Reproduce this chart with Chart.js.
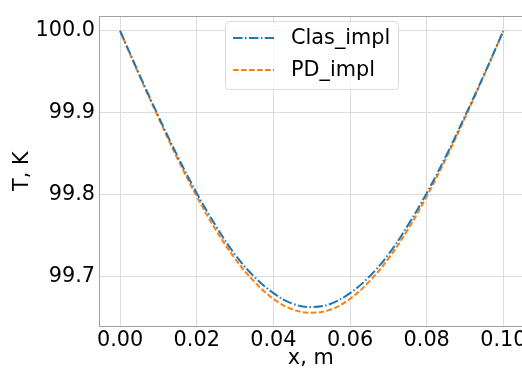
<!DOCTYPE html>
<html>
<head>
<meta charset="utf-8">
<script src="https://cdn.jsdelivr.net/npm/chart.js@4.4.0/dist/chart.umd.min.js"></script>
<style>
  html, body { margin: 0; padding: 0; overflow: hidden; background: #fff; }
  canvas { display: block; }
</style>
</head>
<body>
<canvas id="chartCanvas" width="530" height="371"></canvas>
<script>
"use strict";

// x positions, m
const xs = [0.000, 0.005, 0.010, 0.015, 0.020, 0.025, 0.030, 0.035, 0.040, 0.045, 0.050,
            0.055, 0.060, 0.065, 0.070, 0.075, 0.080, 0.085, 0.090, 0.095, 0.100];
// temperature, K
const clasImpl = [100.000, 99.947, 99.896, 99.847, 99.802, 99.762, 99.727, 99.700, 99.680, 99.667, 99.663,
                  99.667, 99.680, 99.700, 99.727, 99.762, 99.802, 99.847, 99.896, 99.947, 100.000];
const pdImpl = [100.000, 99.946, 99.894, 99.844, 99.798, 99.757, 99.722, 99.694, 99.673, 99.660, 99.656,
                99.660, 99.673, 99.694, 99.722, 99.757, 99.798, 99.844, 99.894, 99.946, 100.000];
const xTicks = [0.00, 0.02, 0.04, 0.06, 0.08, 0.10];
const yTicks = [99.7, 99.8, 99.9, 100.0];

const font = "'DejaVu Sans', sans-serif";
const fontSize = 20.8;
const blueDash = [9.6, 2.4, 1.5, 2.4];
const orangeDash = [5.6, 2.4];

function toPoints(ys) {
    return xs.map((x, i) => ({ x: x, y: ys[i] }));
}

// frame around the plot area + matplotlib style legend box
const framePlugin = {
    id: 'frame',
    afterDraw(chart) {
        const ctx = chart.ctx;
        const a = chart.chartArea;
        ctx.save();
        ctx.strokeStyle = '#a0a0a0';
        ctx.lineWidth = 1;
        ctx.strokeRect(Math.round(a.left) + 0.5, Math.round(a.top) + 0.5,
            Math.round(a.right - a.left), Math.round(a.bottom - a.top));

        // legend
        const lx = 225.5, ly = 21.5, lw = 173, lh = 68, r = 4;
        ctx.beginPath();
        ctx.roundRect(lx, ly, lw, lh, r);
        ctx.fillStyle = 'rgba(255,255,255,0.8)';
        ctx.fill();
        ctx.strokeStyle = '#dcdcdc';
        ctx.stroke();

        ctx.font = fontSize + 'px ' + font;
        ctx.textBaseline = 'middle';
        ctx.textAlign = 'left';
        chart.data.datasets.forEach((ds, i) => {
            const cy = 38 + i * 32;
            ctx.beginPath();
            ctx.setLineDash(ds.borderDash);
            ctx.strokeStyle = ds.borderColor;
            ctx.lineWidth = 2;
            ctx.moveTo(233, cy);
            ctx.lineTo(274, cy);
            ctx.stroke();
            ctx.setLineDash([]);
            ctx.fillStyle = '#000';
            ctx.fillText(ds.label, 291, cy + 1);
        });
        ctx.restore();
    }
};

const ctx = document.getElementById('chartCanvas').getContext('2d');
const plot = new Chart(ctx, {
    type: 'line',
    data: {
        datasets: [
            {
                label: 'Clas_impl',
                data: toPoints(clasImpl),
                borderColor: '#1f77b4',
                borderWidth: 2,
                borderDash: blueDash,
                pointRadius: 0,
                tension: 0.4,
                fill: false
            },
            {
                label: 'PD_impl',
                data: toPoints(pdImpl),
                borderColor: '#ff7f0e',
                borderWidth: 2,
                borderDash: orangeDash,
                pointRadius: 0,
                tension: 0.4,
                fill: false
            }
        ]
    },
    options: {
        responsive: false,
        animation: false,
        layout: { padding: { top: 10, right: 7.5, left: 0, bottom: 0 } },
        plugins: {
            legend: { display: false },
            tooltip: { enabled: false }
        },
        scales: {
            x: {
                type: 'linear',
                min: -0.0055,
                max: 0.105,
                afterBuildTicks: (scale) => { scale.ticks = xTicks.map(v => ({ value: v })); },
                afterFit: (scale) => { scale.height = 45; },
                grid: { color: '#dcdcdc', lineWidth: 1, drawTicks: false },
                border: { display: false },
                ticks: {
                    color: '#000',
                    font: { family: font, size: fontSize },
                    padding: 2,
                    maxRotation: 0,
                    callback: (v) => v.toFixed(2)
                },
                title: {
                    display: true,
                    text: 'x, m',
                    color: '#000',
                    font: { family: font, size: fontSize },
                    padding: { top: 4, bottom: 0 }
                }
            },
            y: {
                min: 99.6398,
                max: 100.0176,
                afterBuildTicks: (scale) => { scale.ticks = yTicks.map(v => ({ value: v })); },
                afterFit: (scale) => { scale.width = 99; },
                grid: { color: '#dcdcdc', lineWidth: 1, drawTicks: false },
                border: { display: false },
                ticks: {
                    color: '#000',
                    font: { family: font, size: fontSize },
                    padding: 4,
                    callback: (v) => v.toFixed(1)
                },
                title: {
                    display: true,
                    text: 'T, K',
                    color: '#000',
                    font: { family: font, size: fontSize },
                    padding: { top: 10, bottom: 0 }
                }
            }
        }
    },
    plugins: [framePlugin]
});
</script>
</body>
</html>
